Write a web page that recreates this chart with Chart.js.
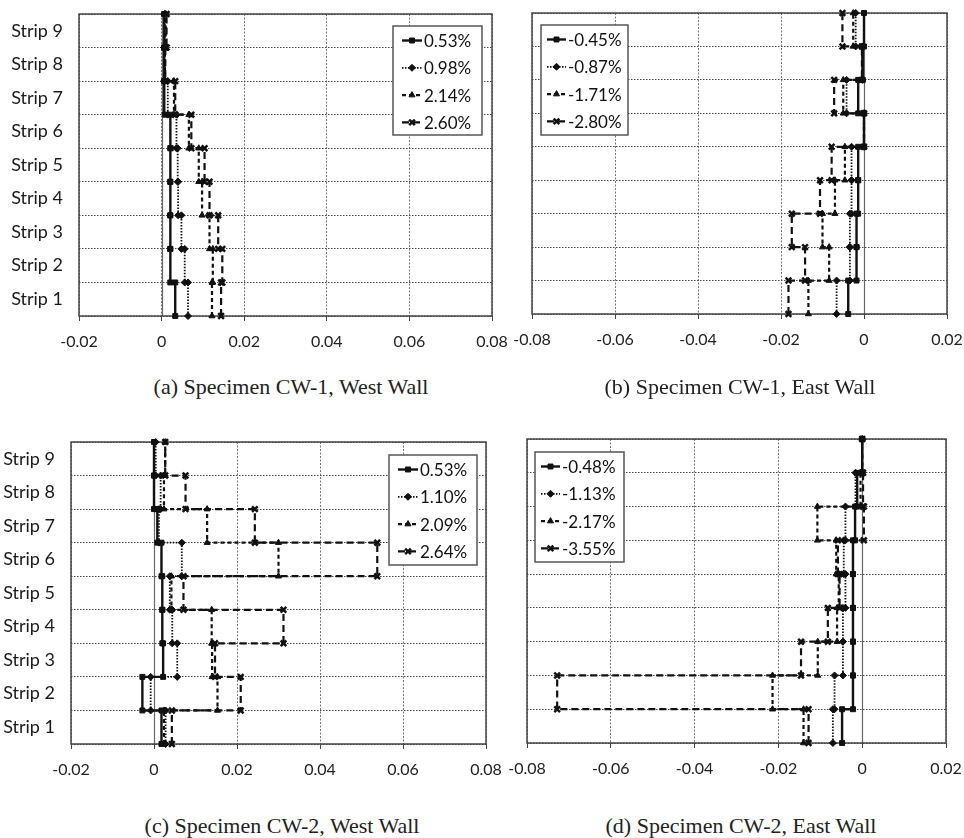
<!DOCTYPE html>
<html>
<head>
<meta charset="utf-8">
<script src="https://cdn.jsdelivr.net/npm/chart.js@4.4.1/dist/chart.umd.min.js"></script>
<style>
  body { margin: 0; background: #fff; }
  #page { position: relative; width: 964px; height: 838px; overflow: hidden; }
  canvas { position: absolute; }
  .cap { position: absolute; font-family: "Liberation Serif", "DejaVu Serif", serif; font-size: 22px; color: #222;
         transform: translate(-50%, -50%); white-space: nowrap; }
</style>
</head>
<body>
<div id="page">
  <canvas id="cA" width="520" height="365" style="left:0;top:0"></canvas>
  <canvas id="cB" width="484" height="365" style="left:480px;top:0"></canvas>
  <canvas id="cC" width="520" height="370" style="left:0;top:430px"></canvas>
  <canvas id="cD" width="484" height="370" style="left:480px;top:430px"></canvas>
  <div class="cap" style="left:291px;top:387px">(a) Specimen CW-1, West Wall</div>
  <div class="cap" style="left:740px;top:387px">(b) Specimen CW-1, East Wall</div>
  <div class="cap" style="left:282px;top:826px">(c) Specimen CW-2, West Wall</div>
  <div class="cap" style="left:741px;top:826px">(d) Specimen CW-2, East Wall</div>
</div>
<script>
// strip names, bottom to top
var strips = ["Strip 1", "Strip 2", "Strip 3", "Strip 4", "Strip 5", "Strip 6", "Strip 7", "Strip 8", "Strip 9"];
var westTicks = [-0.02, 0, 0.02, 0.04, 0.06, 0.08];
var eastTicks = [-0.08, -0.06, -0.04, -0.02, 0, 0.02];

// (a) CW-1 west wall, values strip 1..9
var cw1WestLabels = ["0.53%", "0.98%", "2.14%", "2.60%"];
var cw1West053 = [0.0033, 0.0021, 0.0021, 0.0021, 0.0021, 0.0022, 0.0008, 0.0006, 0.0006];
var cw1West098 = [0.0064, 0.0056, 0.0048, 0.0040, 0.0039, 0.0036, 0.0015, 0.0006, 0.0008];
var cw1West214 = [0.0122, 0.0124, 0.0116, 0.0098, 0.0090, 0.0066, 0.0030, 0.0008, 0.0010];
var cw1West260 = [0.0144, 0.0147, 0.0137, 0.0116, 0.0104, 0.0072, 0.0033, 0.0009, 0.0012];

// (b) CW-1 east wall
var cw1EastLabels = ["-0.45%", "-0.87%", "-1.71%", "-2.80%"];
var cw1East045 = [-0.0038, -0.0018, -0.0018, -0.0014, -0.0014, 0, -0.0014, -0.0003, 0];
var cw1East087 = [-0.0066, -0.0034, -0.0034, -0.0030, -0.0030, 0, -0.0042, -0.0004, -0.0020];
var cw1East171 = [-0.0134, -0.0084, -0.0100, -0.0070, -0.0046, 0, -0.0050, -0.0004, -0.0026];
var cw1East280 = [-0.0182, -0.0142, -0.0174, -0.0106, -0.0078, 0, -0.0072, -0.0005, -0.0052];

// (c) CW-2 west wall
var cw2WestLabels = ["0.53%", "1.10%", "2.09%", "2.64%"];
var cw2West053 = [0.0018, -0.0028, 0.0022, 0.0020, 0.0020, 0.0018, 0.0008, 0, 0];
var cw2West110 = [0.0028, -0.0008, 0.0056, 0.0044, 0.0038, 0.0067, 0.0012, 0.0016, 0.0004];
var cw2West209 = [0.0024, 0.0153, 0.0140, 0.0139, 0.0042, 0.0300, 0.0128, 0.0024, 0.0027];
var cw2West264 = [0.0043, 0.0209, 0.0147, 0.0312, 0.0071, 0.0538, 0.0243, 0.0076, 0.0027];

// (d) CW-2 east wall
var cw2EastLabels = ["-0.48%", "-1.13%", "-2.17%", "-3.55%"];
var cw2East048 = [-0.0048, -0.0022, -0.0022, -0.0022, -0.0022, -0.0022, -0.0017, -0.0012, 0];
var cw2East113 = [-0.0070, -0.0066, -0.0046, -0.0046, -0.0040, -0.0044, -0.0040, -0.0016, 0];
var cw2East217 = [-0.0140, -0.0214, -0.0106, -0.0060, -0.0056, -0.0062, -0.0107, -0.0004, 0];
var cw2East355 = [-0.0128, -0.0728, -0.0146, -0.0082, -0.0054, -0.0058, 0.0004, 0.0002, 0];

// line look of the 4 drift levels
var looks = [
  { dash: [], width: 2.4, point: "rect", r: 3.5, pw: 1 },
  { dash: [1.5, 1.5], width: 1.8, point: "rectRot", r: 3.5, pw: 1 },
  { dash: [4, 3], width: 2.2, point: "triangle", r: 3.5, pw: 1 },
  { dash: [7, 4], width: 2.2, point: "crossRot", r: 4, pw: 2.5 }
];

//turn strip values into a step profile: vertical piece over each strip
function stepPoints(vals) {
  var pts = [];
  for (var i = 0; i < vals.length; i++) {
    pts.push({ x: vals[i], y: i });
    pts.push({ x: vals[i], y: i + 1 });
  }
  return pts;
}

var frameAndLegend = {
  id: "frameAndLegend",
  beforeDatasetsDraw: function (chart) {
    var ctx = chart.ctx, a = chart.chartArea;
    var x0 = chart.scales.x.getPixelForValue(0);
    ctx.save();
    ctx.strokeStyle = "#666";
    ctx.lineWidth = 1.2;
    ctx.beginPath();
    ctx.moveTo(Math.round(x0) + 0.5, a.top);
    ctx.lineTo(Math.round(x0) + 0.5, a.bottom);
    ctx.stroke();
    ctx.strokeStyle = "#444";
    ctx.lineWidth = 1.5;
    ctx.strokeRect(a.left, a.top, a.right - a.left, a.bottom - a.top);
    ctx.restore();
  },
  afterDatasetsDraw: function (chart, args, o) {
    var ctx = chart.ctx;
    ctx.save();
    ctx.fillStyle = "#fff";
    ctx.fillRect(o.x, o.y, o.w, o.h);
    ctx.strokeStyle = "#555";
    ctx.lineWidth = 1.5;
    ctx.strokeRect(o.x, o.y, o.w, o.h);
    chart.data.datasets.forEach(function (ds, i) {
      var yy = o.y + 14.5 + i * 27.3;
      ctx.strokeStyle = "#111";
      ctx.fillStyle = "#111";
      ctx.lineWidth = ds.borderWidth;
      ctx.setLineDash(ds.borderDash);
      ctx.beginPath();
      ctx.moveTo(o.x + o.s0, yy);
      ctx.lineTo(o.x + o.s1, yy);
      ctx.stroke();
      ctx.setLineDash([]);
      ctx.lineWidth = ds.pointBorderWidth;
      Chart.helpers.drawPoint(ctx, { pointStyle: ds.pointStyle, radius: ds.pointRadius, borderWidth: ds.pointBorderWidth, rotation: 0 }, o.x + (o.s0 + o.s1) / 2, yy);
      ctx.font = "17px Lato";
      ctx.textBaseline = "middle";
      ctx.fillText(ds.label, o.x + o.tx, yy + 1);
    });
    ctx.restore();
  }
};

function makePanel(id, p) {
  var sets = p.series.map(function (vals, i) {
    var lk = looks[i];
    return {
      label: p.labels[i],
      data: stepPoints(vals),
      showLine: true,
      borderColor: "#111",
      borderWidth: lk.width,
      borderDash: lk.dash,
      pointStyle: lk.point,
      pointRadius: lk.r,
      pointBorderWidth: lk.pw,
      pointBackgroundColor: "#111",
      pointBorderColor: "#111",
      clip: false
    };
  });
  var cv = document.getElementById(id);
  new Chart(cv.getContext("2d"), {
    type: "scatter",
    data: { datasets: sets },
    plugins: [frameAndLegend],
    options: {
      responsive: false,
      animation: false,
      devicePixelRatio: 1,
      layout: { padding: { left: p.strips ? 0 : p.left, top: p.top, right: cv.width - p.right, bottom: 0 } },
      plugins: {
        legend: { display: false },
        tooltip: { enabled: false },
        frameAndLegend: p.legend
      },
      scales: {
        x: {
          type: "linear",
          min: p.ticks[0],
          max: p.ticks[p.ticks.length - 1],
          afterBuildTicks: function (s) { s.ticks = p.ticks.map(function (v) { return { value: v }; }); },
          afterFit: function (s) { s.height = cv.height - p.bottom; s.paddingLeft = 0; s.paddingRight = 0; },
          grid: { color: "#777", lineWidth: 1, tickLength: 5, tickColor: "#444" },
          border: { display: false, dash: [2, 1.5] },
          ticks: {
            padding: 11,
            autoSkip: false,
            color: "#222",
            font: { family: "Lato", size: 16 },
            maxRotation: 0,
            callback: function (v) { return Math.abs(v) < 1e-9 ? "0" : v.toFixed(2); }
          }
        },
        y: {
          type: "linear",
          min: 0,
          max: strips.length,
          afterBuildTicks: function (s) {
            var t = [];
            for (var i = 0; i <= strips.length; i++) {
              t.push({ value: i });
              if (i < strips.length) t.push({ value: i + 0.5 });
            }
            s.ticks = t;
          },
          afterFit: function (s) { if (p.strips) s.width = p.left; s.paddingTop = 0; s.paddingBottom = 0; },
          grid: {
            drawTicks: false,
            lineWidth: 1,
            color: function (c) { return Number.isInteger(c.tick.value) ? "#444" : "rgba(0,0,0,0)"; }
          },
          border: { display: false, dash: [1.5, 1.5] },
          ticks: {
            display: p.strips,
            autoSkip: false,
            padding: 16,
            color: "#1a1a1a",
            font: { family: "Lato", size: 18 },
            callback: function (v) { return Number.isInteger(v) ? "" : strips[v - 0.5]; }
          }
        }
      }
    }
  });
}

makePanel("cA", {
  series: [cw1West053, cw1West098, cw1West214, cw1West260], labels: cw1WestLabels, ticks: westTicks,
  strips: true, left: 79, right: 492, top: 14, bottom: 316,
  legend: { x: 393, y: 26, w: 89, h: 109, s0: 9, s1: 29, tx: 31 }
});
makePanel("cB", {
  series: [cw1East045, cw1East087, cw1East171, cw1East280], labels: cw1EastLabels, ticks: eastTicks,
  strips: false, left: 52, right: 467, top: 13, bottom: 314,
  legend: { x: 61, y: 25, w: 87, h: 110, s0: 6, s1: 25, tx: 27 }
});
makePanel("cC", {
  series: [cw2West053, cw2West110, cw2West209, cw2West264], labels: cw2WestLabels, ticks: westTicks,
  strips: true, left: 71, right: 486, top: 12, bottom: 314,
  legend: { x: 389, y: 25, w: 88, h: 110, s0: 9, s1: 29, tx: 31 }
});
makePanel("cD", {
  series: [cw2East048, cw2East113, cw2East217, cw2East355], labels: cw2EastLabels, ticks: eastTicks,
  strips: false, left: 47, right: 466, top: 9, bottom: 313,
  legend: { x: 55, y: 22, w: 89, h: 110, s0: 6, s1: 25, tx: 27 }
});
</script>
</body>
</html>
